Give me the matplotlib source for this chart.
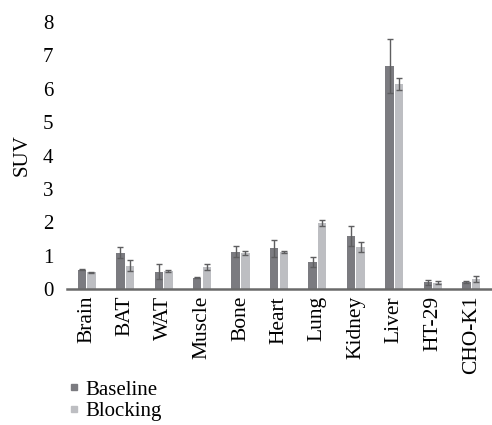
import matplotlib.pyplot as plt
import numpy as np
from matplotlib.lines import Line2D

plt.rcParams['font.family'] = ['Liberation Serif', 'DejaVu Serif']

tissues = ['Brain', 'BAT', 'WAT', 'Muscle', 'Bone', 'Heart', 'Lung', 'Kidney', 'Liver', 'HT-29', 'CHO-K1']
baseline = [0.58, 1.09, 0.52, 0.34, 1.12, 1.22, 0.81, 1.59, 6.68, 0.20, 0.21]
baseline_err = [0.02, 0.17, 0.22, 0.02, 0.17, 0.26, 0.16, 0.30, 0.81, 0.08, 0.04]
blocking = [0.50, 0.70, 0.54, 0.66, 1.08, 1.11, 1.98, 1.26, 6.14, 0.19, 0.31]
blocking_err = [0.02, 0.17, 0.02, 0.08, 0.07, 0.03, 0.08, 0.16, 0.18, 0.04, 0.09]

dark = '#7b7b80'
light = '#bdbec2'
err_col = '#5e5e60'

fig = plt.figure(figsize=(4.92, 4.25), dpi=100)
ax = fig.add_axes([0.137, 0.32, 0.86, 0.628])

x = np.arange(len(tissues))
w = 0.22
ax.bar(x - 0.125, baseline, w, color=dark, yerr=baseline_err,
       error_kw=dict(ecolor=err_col, elinewidth=1, capsize=2.5, capthick=1))
ax.bar(x + 0.125, blocking, w, color=light, yerr=blocking_err,
       error_kw=dict(ecolor=err_col, elinewidth=1, capsize=2.5, capthick=1))

ax.set_xlim(-0.5, len(tissues) - 0.5)
ax.set_ylim(0, 8)
ax.set_yticks(range(0, 9))
ax.set_xticks(x)
ax.set_xticklabels(tissues, rotation=90, fontsize=15.5)
ax.tick_params(axis='y', length=0, labelsize=15, pad=10)
ax.tick_params(axis='x', length=0, pad=5)
for s in ['top', 'right', 'left']:
    ax.spines[s].set_visible(False)
ax.spines['bottom'].set_color('#6a6a6a')
ax.spines['bottom'].set_linewidth(1.8)
ax.set_ylabel('SUV', fontsize=15, labelpad=8)

handles = [Line2D([], [], marker='s', linestyle='none', color=dark, markersize=4),
           Line2D([], [], marker='s', linestyle='none', color=light, markersize=4)]
fig.legend(handles, ['Baseline', 'Blocking'], loc='upper left',
           bbox_to_anchor=(0.12, 0.13), frameon=False, fontsize=15,
           handlelength=0.4, handletextpad=0.35, labelspacing=0.1, borderpad=0)

fig.savefig('out.png', dpi=100)
